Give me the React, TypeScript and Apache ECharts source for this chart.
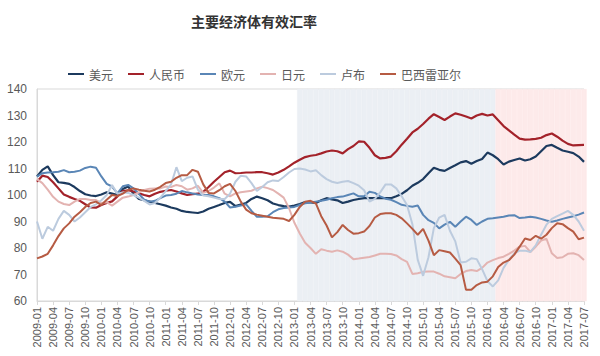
import React, { useEffect, useRef } from 'react';
import * as echarts from 'echarts';

// Monthly categories 2009-01 .. 2017-07
const firstYear = 2009;
const monthCount = 103;
const categories: string[] = [];
for (let i = 0; i < monthCount; i++) {
  const y = firstYear + Math.floor(i / 12);
  const m = (i % 12) + 1;
  categories.push(`${y}-${m < 10 ? '0' + m : m}`);
}

const seriesNames = ['美元', '人民币', '欧元', '日元', '卢布', '巴西雷亚尔'];

const usd = [
  107, 109.5, 110.8, 107.5, 104.8, 104.6, 104.2, 103, 101.5, 100.3,
  99.8, 99.6, 100.2, 101, 100.5, 100, 102.3, 103.2, 100.5, 98.5,
  98, 97.5, 97, 96.5, 96, 95.3, 94.8, 94, 93.6, 93.4,
  93.2, 93.8, 94.8, 95.5, 96.2, 97, 97.4, 95.8, 96.4, 97,
  98.5, 99.4, 98.8, 98, 96.8, 96.2, 95.8, 95.6, 96, 96.6,
  97.3, 97.2, 97, 98, 98.8, 98.3, 98, 97, 97.5, 98.1,
  98.5, 98.8, 98.8, 98.8, 98.8, 98.8, 98.8, 99.5, 100.4, 101.8,
  103.5, 104.6, 106, 108.2, 110.3, 109.5, 109.1, 110.2, 111.2, 112.3,
  112.8, 111.8, 112.8, 113.6, 116, 115, 113.5, 111.5, 112.6, 113.2,
  113.8, 113, 113.5, 114.5, 116.5, 118.5, 118.9, 117.8, 116.8, 116.3,
  115.8, 114.5, 112.5,
];

const cny = [
  105, 107.3, 106.8, 104.8, 102.5, 100.2, 99.3, 98.5, 97.8, 96.5,
  95.3, 95.2, 96.2, 97, 97.6, 99.5, 101.5, 101.8, 101.3, 100.6,
  100, 99.5, 100.5, 101.2, 101.6, 101.9, 101.3, 100.6, 100, 100.3,
  100.5, 101.2, 103, 105, 106.8, 108.6, 109.2, 108.2, 108.3, 108.5,
  108.5, 108.6, 108.6, 108.2, 107.7, 108.5, 109.5, 110.8, 112.2, 113.3,
  114.3, 114.8, 115.1, 115.7, 116.4, 116.8, 116.5, 115.7, 117.3, 118.5,
  120.2, 120.1, 117.8, 115, 113.8, 114, 114.5, 116.5, 119, 121.2,
  123.6, 125, 126.8, 128.8, 130.5, 129.4, 128.3, 129.6, 130.8, 130.3,
  129.6, 128.9, 130, 130.6, 130, 130.4, 128.2, 126, 124.4, 122.8,
  121.3, 120.9, 121, 121.2, 121.6, 122.6, 123.2, 122, 120.5, 119.3,
  118.7, 118.8, 118.9,
];

const eur = [
  106.9, 108.2, 108.5, 108.6, 108.8, 109.4, 108.6, 108.8, 109.2, 110.2,
  110.7, 110.3, 107, 104.2, 103.2, 100.6, 103.3, 103.8, 102.5, 100.4,
  98.2, 97.5, 97.8, 98.8, 99.8, 100, 100.5, 101.5, 101, 100.6,
  100.2, 100, 100, 99.5, 98.8, 97.5, 95.3, 95.6, 96, 96.5,
  94, 91.8, 91.8, 92, 93.5, 94.6, 95.1, 95.3, 95.5, 96.2,
  96.9, 97.2, 97.5, 97.8, 98.2, 98.8, 99.2, 99.4, 100, 100.6,
  99.5, 99.5, 101.2, 100.8, 99.5, 98.6, 98.2, 97.3, 96.3, 95.9,
  95.6, 96, 92.5, 90.5, 89.5, 87.4, 88.8, 89.9, 88, 90,
  91.8, 90.6, 88.7, 90, 91, 91.2, 91.5, 91.8, 92.3, 92.4,
  91.3, 91.5, 91.8, 91.5, 91, 90.4, 89.9, 90.4, 91, 91.5,
  92, 92.6, 93.4,
];

const jpy = [
  106, 104.5, 102, 99.3, 97.5, 96.6, 96.2, 97.5, 98.5, 98.5,
  98.1, 98.1, 97, 97.3, 96, 97.5, 99, 99.4, 100, 101,
  101.9, 102.4, 102.5, 102.5, 103.2, 103, 103.8, 103.3, 102, 102.5,
  103.5, 100.8, 101.5, 102.8, 104.4, 100.5, 99.5, 100.6, 101, 101.3,
  101.6, 102.5, 103.1, 102.6, 101.9, 100.5, 99, 95, 89.5, 85.5,
  82, 80, 77.8, 79.5, 79, 78.6, 79.1, 78.6, 77.5, 75.8,
  76, 76.3, 76.6, 77.2, 77.8, 77.8, 77.7, 77.2, 75.8, 74.8,
  70.2, 70.5, 71, 71.1, 71.1, 70.3, 69.3, 69, 68.6, 70.2,
  71.3, 71.7, 71.3, 72.5, 74.5, 75.4, 76.2, 76.7, 77.8, 79,
  80.5, 80.8, 78.5, 80.5, 82.8, 83.5, 78, 76.2, 76.5, 77.8,
  78, 77.3, 75.5,
];

const rub = [
  90, 83.5, 88, 86.5, 91, 94, 92.5, 90, 91.5, 93.5,
  95.5, 96.5, 98, 100, 103.8, 100.5, 101, 100.8, 100, 99,
  97.8, 96.4, 97, 99, 101.5, 104, 110.5, 105.2, 106.5, 107,
  102, 99.8, 99.5, 99, 98.5, 98.5, 100.5, 105, 107.3, 107,
  104.5, 101.5, 103, 104.8, 105.5, 105.3, 106.8, 108.5, 109.8, 110,
  109.6, 108.9, 109.3, 107.5, 106, 105, 104.5, 105, 105.3, 104.5,
  103.5, 101.8, 97.5, 98.5, 101, 104, 104, 102.5, 99.5, 96.2,
  89, 75.5, 69.5, 76.5, 87.5, 91.5, 92.5, 86.5, 82.5, 74.5,
  74.8, 76.1, 75.8, 72, 67.5, 65.5, 67.8, 72.5, 75.5, 78,
  79, 79, 78.5, 81, 85, 88.8, 91, 92, 93, 94,
  92.5, 90, 86.5,
];

const brl = [
  76.1, 76.8, 77.8, 81, 84.5, 87.4, 89.3, 91.8, 93.5, 95.5,
  97, 97.5, 96.2, 98.2, 100, 99.6, 100.5, 101.9, 102.5, 102,
  101.6, 101.3, 102, 103.1, 104.5, 105, 106.5, 107.5, 107.5, 109.5,
  108.8, 104, 100.8, 100.6, 101.8, 103.3, 104.2, 101.5, 97.5, 94.5,
  93.1, 92.6, 92.2, 91.8, 91.4, 91.2, 91, 90.2, 92.5, 95.5,
  97.5, 97.8, 96.8, 92, 88.5, 84, 86, 88.7, 86.8, 85.4,
  85.6, 86.2, 88.3, 91.5, 92.8, 93.1, 93.1, 92.5, 91.2, 89.3,
  87.2, 85, 87.2, 82.8, 77.3, 79.2, 78.8, 78.3, 76, 73.5,
  64.2, 64.2, 66, 67, 67.3, 69.3, 72.8, 74.5, 75.4, 77.5,
  80.5, 83.6, 83, 84.6, 83.5, 85, 87.5, 89.3, 89, 87.5,
  86.2, 83.3, 83.9,
];

const seriesData = [usd, cny, eur, jpy, rub, brl];
const seriesColors = ['#1c3a5e', '#a3222a', '#5a86b6', '#e3b3b1', '#bccbde', '#b65b43'];

// Shaded periods (first and last month of each band)
const blueShadeRange = ['2013-02', '2016-02'];
const pinkShadeRange = ['2016-03', '2017-07'];
const blueShadeColor = '#ebeff4';
const pinkShadeColor = '#fdeaea';

const yMin = 60;
const yMax = 140;
const yInterval = 10;

const fontFamily = '"Liberation Sans", Arial, "Noto Sans CJK SC", sans-serif';

export default function App() {
  const ref = useRef<HTMLDivElement>(null);

  useEffect(() => {
    if (!ref.current) return;
    const chart = echarts.init(ref.current, undefined, { renderer: 'svg' });

    const bIdx0 = categories.indexOf(blueShadeRange[0]);
    const bIdx1 = categories.indexOf(blueShadeRange[1]);
    const pIdx0 = categories.indexOf(pinkShadeRange[0]);
    const pIdx1 = categories.indexOf(pinkShadeRange[1]);
    const shadeData = categories.map((_, i) => {
      if (i >= bIdx0 && i <= bIdx1) {
        return { value: yMax, itemStyle: { color: blueShadeColor, borderColor: blueShadeColor, borderWidth: 0.6 } };
      }
      if (i >= pIdx0 && i <= pIdx1) {
        return { value: yMax, itemStyle: { color: pinkShadeColor, borderColor: pinkShadeColor, borderWidth: 0.6 } };
      }
      return '-';
    });

    const lineSeries = seriesNames.map((name, k) => ({
      name,
      type: 'line' as const,
      data: seriesData[k],
      symbol: 'none',
      showSymbol: false,
      z: 3,
      lineStyle: { color: seriesColors[k], width: k < 2 ? 2.2 : 2 },
      itemStyle: { color: seriesColors[k] },
    }));

    chart.setOption({
      animation: false,
      backgroundColor: '#ffffff',
      title: {
        text: '主要经济体有效汇率',
        left: 186,
        top: 9,
        textStyle: {
          fontSize: 14,
          fontWeight: 'bold',
          color: '#333333',
          fontFamily: '"Noto Sans CJK SC", sans-serif',
        },
      },
      legend: {
        data: seriesNames,
        left: 63,
        top: 63,
        icon: 'rect',
        itemWidth: 16,
        itemHeight: 2,
        itemGap: 15,
        textStyle: {
          fontSize: 12,
          color: '#595959',
          fontFamily: '"Noto Sans CJK SC", sans-serif',
        },
      },
      grid: {
        left: 37,
        right: 16,
        top: 89,
        bottom: 55,
        show: true,
        borderColor: '#d9d9d9',
        borderWidth: 1,
        containLabel: false,
      },
      xAxis: {
        type: 'category',
        data: categories,
        boundaryGap: false,
        axisLine: { show: true, lineStyle: { color: '#d9d9d9' } },
        axisTick: { show: true, interval: 2, length: 4, lineStyle: { color: '#d9d9d9' } },
        axisLabel: {
          interval: 2,
          rotate: 90,
          margin: 6,
          fontSize: 11,
          color: '#595959',
          fontFamily,
        },
        splitLine: { show: false },
      },
      yAxis: {
        type: 'value',
        min: yMin,
        max: yMax,
        interval: yInterval,
        axisLine: { show: true, lineStyle: { color: '#d9d9d9' } },
        axisTick: { show: false },
        axisLabel: { fontSize: 12, color: '#595959', margin: 10, fontFamily },
        splitLine: { show: false },
      },
      series: [
        {
          name: 'shade',
          type: 'bar',
          data: shadeData,
          barWidth: '100%',
          barGap: '-100%',
          silent: true,
          z: 1,
          clip: true,
        },
        ...lineSeries,
      ],
    });

    return () => chart.dispose();
  }, []);

  return (
    <div
      ref={ref}
      style={{ position: 'fixed', left: 0, top: 0, width: 600, height: 356 }}
    />
  );
}
